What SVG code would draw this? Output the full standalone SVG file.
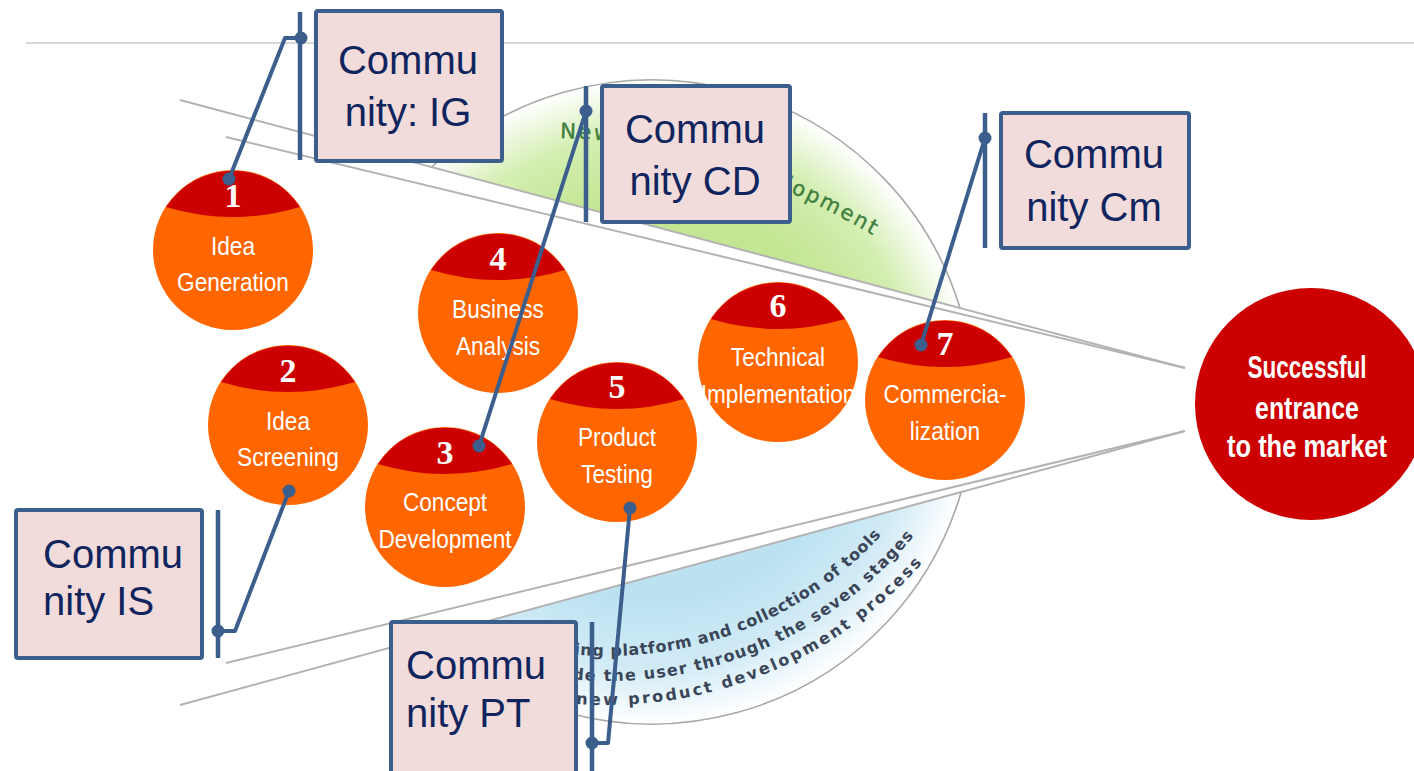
<svg xmlns="http://www.w3.org/2000/svg" width="1414" height="771" viewBox="0 0 1414 771">
  <defs>
    <style>
      .box rect { fill: #f2dcdb; stroke: #3b5e8c; stroke-width: 4; }
      .box text { font-family: "Liberation Sans", Arial, sans-serif; font-size: 40px; fill: #10245e; }
      .box .c { text-anchor: middle; }
      .conn { stroke: #3b5e8c; stroke-width: 4; fill: none; stroke-linejoin: round; stroke-linecap: butt; }
      .bar { stroke: #3b5e8c; stroke-width: 4.5; }
      .dot { fill: #3b5e8c; }
      .stage circle { fill: #ff6600; }
      .cap { fill: #cc0000; }
      .num { font-family: "Liberation Serif", "Times New Roman", serif; font-weight: bold; font-size: 34px; fill: #ffffff; text-anchor: middle; }
      .lbl { font-family: "Liberation Sans", Arial, sans-serif; font-size: 26px; fill: #ffffff; text-anchor: middle; }
      .funnel { stroke: #b3b3b3; stroke-width: 2; fill: none; }
      .arc { stroke: #a8a8a8; stroke-width: 1.6; fill: none; }
      .gtxt { font-family: "DejaVu Sans", sans-serif; font-size: 21px; fill: #3f7f3f; stroke: #3f7f3f; stroke-width: 0.4; }
      .btxt { font-family: "DejaVu Sans", sans-serif; font-weight: bold; font-size: 16px; fill: #3a4558; }
      .mkt { font-family: "Liberation Sans", Arial, sans-serif; font-weight: bold; font-size: 32px; fill: #ffffff; text-anchor: middle; }
    </style>
    <radialGradient id="gGreen" gradientUnits="userSpaceOnUse" cx="652" cy="402" r="322">
      <stop offset="0" stop-color="#c3e693"/>
      <stop offset="0.62" stop-color="#c3e693"/>
      <stop offset="0.83" stop-color="#d4eeb1"/>
      <stop offset="1" stop-color="#ffffff"/>
    </radialGradient>
    <radialGradient id="gBlue" gradientUnits="userSpaceOnUse" cx="652" cy="402" r="322">
      <stop offset="0" stop-color="#bce2f2"/>
      <stop offset="0.62" stop-color="#bce2f2"/>
      <stop offset="0.83" stop-color="#d2ebf6"/>
      <stop offset="1" stop-color="#ffffff"/>
    </radialGradient>
    <path id="pGreen" d="M560,138 Q722,141 892,247"/>
    <path id="pB1" d="M574,654.5 A372,372 0 0 0 956.6,411.2"/>
    <path id="pB2" d="M572,679.5 A397,397 0 0 0 980.1,419.8"/>
    <path id="pB3" d="M576,703.9 A421,421 0 0 0 1002.6,428"/>
  </defs>

  <rect width="1414" height="771" fill="#ffffff"/>

  <g id="background">
    <line x1="26" y1="43" x2="1414" y2="43" stroke="#d6dbda" stroke-width="2"/>
    <path d="M431.7,167.1 A322,322 0 0 1 960,308 Z" fill="url(#gGreen)"/>
    <path d="M961.4,491.2 A322,322 0 0 1 431.1,636.3 Z" fill="url(#gBlue)"/>
    <path class="arc" d="M431.7,167.1 A322,322 0 0 1 960,308"/>
    <path class="arc" d="M961.4,491.2 A322,322 0 0 1 431.1,636.3"/>
    <text class="gtxt" letter-spacing="2.3"><textPath href="#pGreen">New Product Development</textPath></text>
    <text class="btxt" letter-spacing="0.67"><textPath href="#pB1">ing platform and collection of tools</textPath></text>
    <text class="btxt" letter-spacing="1.29"><textPath href="#pB2">de the user through the seven stages</textPath></text>
    <text class="btxt" letter-spacing="2.5"><textPath href="#pB3">new product development process</textPath></text>
    <line class="funnel" x1="180" y1="100" x2="1185" y2="368"/>
    <line class="funnel" x1="226" y1="137" x2="1185" y2="368"/>
    <line class="funnel" x1="226" y1="663" x2="1185" y2="431"/>
    <line class="funnel" x1="180" y1="705" x2="1185" y2="431"/>
  </g>

  <g id="stage1" class="stage" transform="translate(233,250)">
    <circle r="80"/>
    <path class="cap" d="M-67,-43 A80,80 0 0 1 67,-43 Q0,-23 -67,-43 Z"/>
    <text class="num" y="-43">1</text>
    <g transform="scale(0.87,1)"><text class="lbl" y="5">Idea</text><text class="lbl" y="41">Generation</text></g>
  </g>
  <g id="stage2" class="stage" transform="translate(288,425)">
    <circle r="80"/>
    <path class="cap" d="M-67,-43 A80,80 0 0 1 67,-43 Q0,-23 -67,-43 Z"/>
    <text class="num" y="-43">2</text>
    <g transform="scale(0.87,1)"><text class="lbl" y="5">Idea</text><text class="lbl" y="41">Screening</text></g>
  </g>
  <g id="stage3" class="stage" transform="translate(445,507)">
    <circle r="80"/>
    <path class="cap" d="M-67,-43 A80,80 0 0 1 67,-43 Q0,-23 -67,-43 Z"/>
    <text class="num" y="-43">3</text>
    <g transform="scale(0.87,1)"><text class="lbl" y="4">Concept</text><text class="lbl" y="41">Development</text></g>
  </g>
  <g id="stage4" class="stage" transform="translate(498,313)">
    <circle r="80"/>
    <path class="cap" d="M-67,-43 A80,80 0 0 1 67,-43 Q0,-23 -67,-43 Z"/>
    <text class="num" y="-43">4</text>
    <g transform="scale(0.87,1)"><text class="lbl" y="5">Business</text><text class="lbl" y="42">Analysis</text></g>
  </g>
  <g id="stage5" class="stage" transform="translate(617,442)">
    <circle r="80"/>
    <path class="cap" d="M-67,-43 A80,80 0 0 1 67,-43 Q0,-23 -67,-43 Z"/>
    <text class="num" y="-44">5</text>
    <g transform="scale(0.87,1)"><text class="lbl" y="4">Product</text><text class="lbl" y="41">Testing</text></g>
  </g>
  <g id="stage6" class="stage" transform="translate(778,362)">
    <circle r="80"/>
    <path class="cap" d="M-67,-43 A80,80 0 0 1 67,-43 Q0,-23 -67,-43 Z"/>
    <text class="num" y="-45">6</text>
    <g transform="scale(0.87,1)"><text class="lbl" y="4">Technical</text><text class="lbl" y="41">Implementation</text></g>
  </g>
  <g id="stage7" class="stage" transform="translate(945,400)">
    <circle r="80"/>
    <path class="cap" d="M-67,-43 A80,80 0 0 1 67,-43 Q0,-23 -67,-43 Z"/>
    <text class="num" y="-45">7</text>
    <g transform="scale(0.87,1)"><text class="lbl" y="3">Commercia-</text><text class="lbl" y="40">lization</text></g>
  </g>

  <g id="market">
    <circle cx="1311" cy="404" r="116" fill="#cc0000"/>
    <text class="mkt" x="1307" y="378" textLength="119" lengthAdjust="spacingAndGlyphs">Successful</text>
    <text class="mkt" x="1307" y="419" textLength="104" lengthAdjust="spacingAndGlyphs">entrance</text>
    <text class="mkt" x="1307" y="457" textLength="160" lengthAdjust="spacingAndGlyphs">to the market</text>
  </g>

  <g id="boxIG" class="box">
    <rect x="316" y="11" width="186" height="150" rx="2"/>
    <text class="c" x="408" y="74">Commu</text>
    <text class="c" x="408" y="126">nity: IG</text>
  </g>
  <g id="boxCD" class="box">
    <rect x="602" y="86" width="188" height="136" rx="2"/>
    <text class="c" x="695" y="143">Commu</text>
    <text class="c" x="695" y="195">nity CD</text>
  </g>
  <g id="boxCm" class="box">
    <rect x="1001" y="113" width="188" height="135" rx="2"/>
    <text class="c" x="1094" y="168">Commu</text>
    <text class="c" x="1094" y="221">nity Cm</text>
  </g>
  <g id="boxIS" class="box">
    <rect x="16" y="510" width="186" height="148" rx="2"/>
    <text x="43" y="568">Commu</text>
    <text x="43" y="615">nity IS</text>
  </g>
  <g id="boxPT" class="box">
    <rect x="391" y="622" width="185" height="160" rx="2"/>
    <text x="406" y="679">Commu</text>
    <text x="406" y="727">nity PT</text>
  </g>

  <g id="connectors">
    <line class="bar" x1="300" y1="12" x2="300" y2="160"/>
    <polyline class="conn" points="301,38 285,38 229,179"/>
    <circle class="dot" cx="301" cy="38" r="6.5"/>
    <circle class="dot" cx="229" cy="179" r="6.5"/>

    <line class="bar" x1="586" y1="86" x2="586" y2="222"/>
    <polyline class="conn" points="586,111 479,446"/>
    <circle class="dot" cx="586" cy="111" r="6.5"/>
    <circle class="dot" cx="479" cy="446" r="6.5"/>

    <line class="bar" x1="985" y1="113" x2="985" y2="248"/>
    <polyline class="conn" points="985,138 921,345"/>
    <circle class="dot" cx="985" cy="138" r="6.5"/>
    <circle class="dot" cx="921" cy="345" r="6.5"/>

    <line class="bar" x1="218" y1="510" x2="218" y2="658"/>
    <polyline class="conn" points="218,631 235,631 289,491"/>
    <circle class="dot" cx="218" cy="631" r="6.5"/>
    <circle class="dot" cx="289" cy="491" r="6.5"/>

    <line class="bar" x1="592" y1="622" x2="592" y2="771"/>
    <polyline class="conn" points="592,743 608,743 630,508"/>
    <circle class="dot" cx="592" cy="743" r="6.5"/>
    <circle class="dot" cx="630" cy="508" r="6.5"/>
  </g>
</svg>
